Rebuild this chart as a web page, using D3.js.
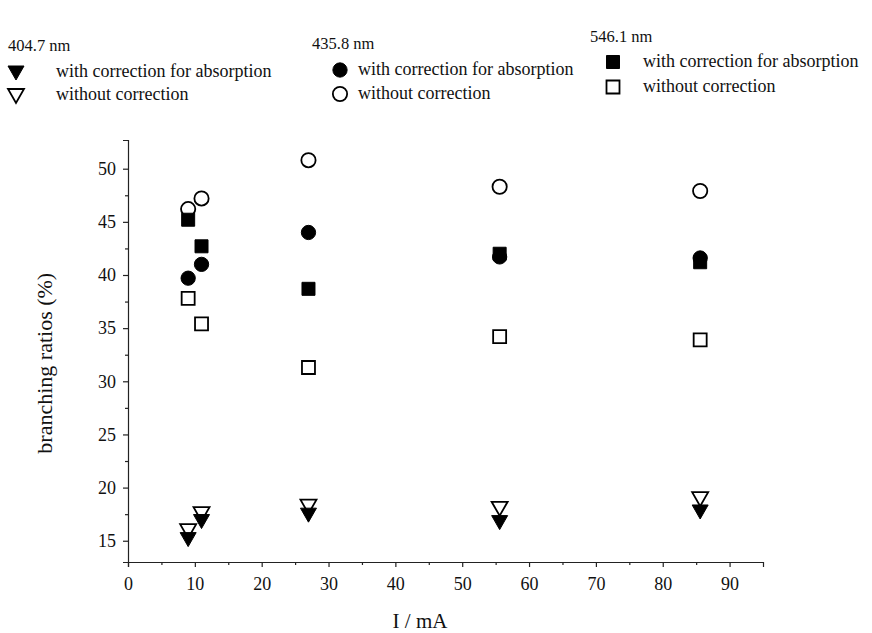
<!DOCTYPE html>
<html>
<head>
  <title>Branching ratios</title>
  <script src="https://d3js.org/d3.v7.min.js"></script>
  <style>
    body { margin: 0; background: #fff; }
    text { font-family: "Liberation Serif", "Times New Roman", serif; fill: #111; }
  </style>
</head>
<body>
  <div id="chart"></div>

  <script>
    // data
    var currents = [9, 11, 27, 55.6, 85.6];
    var tri_corr   = [15.2, 16.9, 17.5, 16.8, 17.8];   // 404.7 nm, corrected
    var tri_raw    = [16.0, 17.6, 18.3, 18.1, 19.0];   // 404.7 nm, without correction
    var circ_corr  = [39.7, 41.0, 44.0, 41.7, 41.6];   // 435.8 nm, corrected
    var circ_raw   = [46.2, 47.2, 50.8, 48.3, 47.9];   // 435.8 nm, without correction
    var sq_corr    = [45.2, 42.7, 38.7, 42.0, 41.2];   // 546.1 nm, corrected
    var sq_raw     = [37.8, 35.4, 31.3, 34.2, 33.9];   // 546.1 nm, without correction
    var xTicks = [0, 10, 20, 30, 40, 50, 60, 70, 80, 90];
    var yTicks = [15, 20, 25, 30, 35, 40, 45, 50];

    var width = 872, height = 633;
    var svg = d3.select('#chart').append('svg')
      .attr('width', width)
      .attr('height', height);

    var x = d3.scaleLinear().domain([0, 95]).range([128, 763]);
    var y = d3.scaleLinear().domain([13, 52.7]).range([562, 140]);

    // axes
    var xAxis = svg.append('g')
      .attr('transform', 'translate(0,' + y(13) + ')')
      .call(d3.axisBottom(x).tickValues(xTicks).tickSize(5).tickPadding(10).tickFormat(d3.format('d')));
    var xMinor = svg.append('g')
      .attr('transform', 'translate(0,' + y(13) + ')')
      .call(d3.axisBottom(x).tickValues(d3.range(5, 95, 10)).tickSize(3).tickFormat(''));
    var yAxis = svg.append('g')
      .attr('transform', 'translate(' + x(0) + ',0)')
      .call(d3.axisLeft(y).tickValues(yTicks).tickSize(5).tickPadding(7).tickFormat(d3.format('d')));
    var yMinor = svg.append('g')
      .attr('transform', 'translate(' + x(0) + ',0)')
      .call(d3.axisLeft(y).tickValues(d3.range(17.5, 52.5, 5)).tickSize(3).tickFormat(''));

    [xAxis, xMinor, yAxis, yMinor].forEach(function(g) {
      g.selectAll('path, line').attr('stroke', '#222').attr('stroke-width', 1.2);
      g.selectAll('text').attr('font-size', 18).attr('font-family', '"Liberation Serif", serif').attr('fill', '#111');
    });
    xMinor.select('.domain').remove();
    yMinor.select('.domain').remove();

    svg.append('text')
      .attr('transform', 'translate(52,' + y(31.7) + ') rotate(-90)')
      .attr('text-anchor', 'middle')
      .attr('font-size', 22)
      .text('branching ratios (%)');

    svg.append('text')
      .attr('x', 420).attr('y', 628)
      .attr('text-anchor', 'middle')
      .attr('font-size', 21)
      .text('I / mA');

    // marker shapes
    function shape(kind) {
      if (kind === 'tri') return 'M-8,-6L8,-6L0,8Z';
      if (kind === 'circ') return d3.symbol().type(d3.symbolCircle).size(160)();
      return 'M-6.5,-6.5H6.5V6.5H-6.5Z';
    }

    var series = [
      { vals: tri_raw,  kind: 'tri',  filled: false },
      { vals: tri_corr, kind: 'tri',  filled: true },
      { vals: circ_raw, kind: 'circ', filled: false },
      { vals: sq_raw,   kind: 'sq',   filled: false },
      { vals: sq_corr,  kind: 'sq',   filled: true },
      { vals: circ_corr,kind: 'circ', filled: true }
    ];

    series.forEach(function(s) {
      svg.append('g').selectAll('path')
        .data(currents.map(function(c, i) { return [c, s.vals[i]]; }))
        .enter()
        .append('path')
        .attr('d', shape(s.kind))
        .attr('transform', function(d) { return 'translate(' + x(d[0]) + ',' + y(d[1]) + ')'; })
        .attr('fill', s.filled ? '#000' : '#fff')
        .attr('stroke', '#000')
        .attr('stroke-width', s.filled ? 1 : 1.8);
    });

    // legend
    var legend = [
      { title: '404.7 nm', kind: 'tri',  tx: 8,   ty: 51, mx: 16,  lx: 56,  y1: 72, y2: 95 },
      { title: '435.8 nm', kind: 'circ', tx: 312, ty: 49, mx: 340, lx: 358, y1: 70, y2: 94 },
      { title: '546.1 nm', kind: 'sq',   tx: 590, ty: 42, mx: 613, lx: 643, y1: 62, y2: 87 }
    ];

    legend.forEach(function(l) {
      svg.append('text').attr('x', l.tx).attr('y', l.ty).attr('font-size', 16.5).text(l.title);
      svg.append('path').attr('d', shape(l.kind))
        .attr('transform', 'translate(' + l.mx + ',' + l.y1 + ')')
        .attr('fill', '#000').attr('stroke', '#000');
      svg.append('path').attr('d', shape(l.kind))
        .attr('transform', 'translate(' + l.mx + ',' + l.y2 + ')')
        .attr('fill', '#fff').attr('stroke', '#000').attr('stroke-width', 1.8);
      svg.append('text').attr('x', l.lx).attr('y', l.y1 + 5).attr('font-size', 18).text('with correction for absorption');
      svg.append('text').attr('x', l.lx).attr('y', l.y2 + 5).attr('font-size', 18).text('without correction');
    });
  </script>
</body>
</html>
